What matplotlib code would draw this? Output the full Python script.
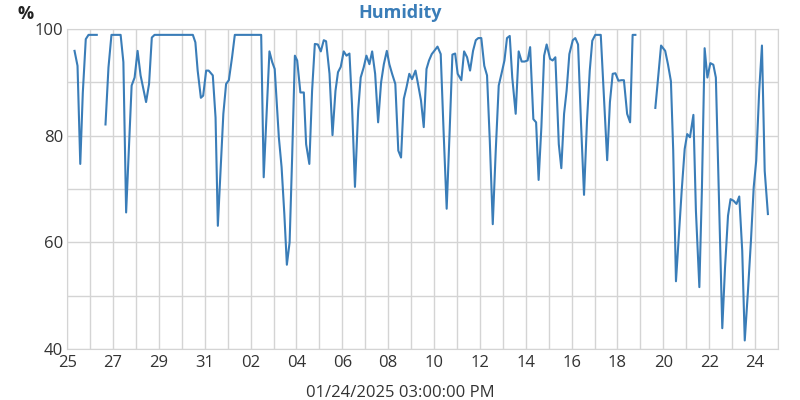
import matplotlib
matplotlib.use("Agg")
import matplotlib.pyplot as plt
import matplotlib.dates as mdates
import numpy as np
from datetime import datetime, timedelta

plt.rcParams['font.family'] = ['Open Sans', 'DejaVu Sans']

# lecturas: dias desde 25/12/2024 00:00 y humedad (%)
# None = hueco sin datos
dias = [0.32, 0.45, 0.57, 0.68, 0.81, 0.93, 1.29, None,
        1.67, 1.80, 1.93, 2.33, 2.45, 2.57, 2.81, 2.94, 3.07, 3.20, 3.44, 3.57,
        3.69, 3.81, 5.48, 5.59, 5.69, 5.83, 5.93, 6.06, 6.17, 6.35, 6.47, 6.57,
        6.81, 6.93, 7.05, 7.19, 7.31, 8.46, 8.57, 8.82, 8.94, 9.05, 9.23, 9.35,
        9.47, 9.58, 9.70, 9.81, 9.93, 10.03, 10.17, 10.32, 10.42, 10.56, 10.68,
        10.80, 10.93, 11.06, 11.19, 11.29, 11.44, 11.57, 11.70, 11.81, 11.93,
        12.06, 12.18, 12.31, 12.42, 12.55, 12.69, 12.80, 12.93, 13.05, 13.18,
        13.30, 13.43, 13.56, 13.69, 13.81, 13.94, 14.05, 14.17, 14.31, 14.44,
        14.56, 14.68, 14.80, 14.92, 15.04, 15.19, 15.30, 15.43, 15.55, 15.67,
        15.78, 15.90, 16.01, 16.15, 16.29, 16.42, 16.55, 16.68, 16.80, 16.92,
        17.03, 17.19, 17.31, 17.44, 17.57, 17.70, 17.82, 17.93, 18.06, 18.19,
        18.31, 18.43, 18.56, 18.69, 18.82, 18.94, 19.07, 19.18, 19.30, 19.41,
        19.56, 19.69, 19.82, 19.95, 20.08, 20.19, 20.33, 20.45, 20.56, 20.68,
        20.80, 20.91, 21.06, 21.17, 21.29, 21.44, 21.55, 21.67, 21.78, 21.90,
        22.05, 22.16, 22.28, 22.41, 22.54, 22.67, 22.79, 22.90, 23.03, 23.27,
        23.41, 23.55, 23.67, 23.79, 23.91, 24.04, 24.17, 24.28, 24.42, 24.55,
        24.66, 24.78, None,
        25.65, 25.90, 26.08, 26.20, 26.33, 26.43, 26.55, 26.67, 26.80, 26.93,
        27.04, 27.16, 27.31, 27.42, 27.57, 27.68, 27.80, 27.92, 28.05, 28.18,
        28.29, 28.44, 28.57, 28.69, 28.82, 28.93, 29.06, 29.19, 29.31, 29.44,
        29.55, 29.69, 29.82, 29.94, 30.05, 30.18, 30.30, 30.42, 30.56]

humedad = [95.9, 93.1, 74.7, 88.0, 98.1, 98.9, 98.9, None,
           82.1, 92.8, 98.9, 98.9, 93.8, 65.6, 89.4, 90.9, 95.9, 91.3, 86.3, 89.7,
           98.4, 98.9, 98.9, 97.5, 92.2, 87.1, 87.5, 92.2, 92.2, 91.3, 83.4, 63.1,
           84.1, 89.7, 90.4, 94.7, 98.9, 98.9, 72.2, 95.8, 93.8, 92.5, 79.7, 74.1,
           65.3, 55.8, 60.0, 75.9, 95.0, 94.1, 88.1, 88.1, 78.4, 74.7, 88.4,
           97.2, 97.1, 95.8, 97.9, 97.7, 91.6, 80.1, 88.4, 91.9, 92.9,
           95.8, 95.0, 95.4, 85.9, 70.4, 84.7, 90.9, 92.8, 95.0, 93.4,
           95.8, 91.6, 82.5, 90.0, 93.4, 95.9, 93.4, 91.6, 89.7, 77.2,
           75.9, 86.9, 89.1, 91.6, 90.6, 92.2, 89.7, 86.6, 81.6, 92.5,
           94.1, 95.3, 95.9, 96.7, 95.3, 80.3, 66.3, 80.9, 95.2, 95.4,
           91.6, 90.4, 95.8, 94.7, 92.2, 95.9, 97.9, 98.3, 98.3, 93.1,
           91.3, 79.1, 63.4, 77.2, 89.4, 91.6, 94.1, 98.3, 98.7, 90.9,
           84.1, 95.8, 93.9, 93.9, 94.1, 96.6, 83.1, 82.5, 71.7, 81.6,
           95.0, 97.1, 94.4, 94.1, 94.7, 78.4, 73.9, 84.1, 88.4, 95.3,
           97.9, 98.3, 97.1, 82.2, 68.9, 82.8, 92.2, 97.8, 98.9, 98.9,
           87.2, 75.4, 86.3, 91.6, 91.7, 90.3, 90.4, 90.4, 84.1, 82.5,
           98.9, 98.9, None,
           85.2, 96.9, 95.9, 93.4, 90.2, 77.2, 52.7, 60.9, 69.7, 77.5,
           80.3, 79.7, 83.9, 65.9, 51.6, 69.7, 96.4, 90.9, 93.6, 93.3,
           90.9, 65.9, 43.9, 55.3, 65.0, 68.1, 67.8, 67.2, 68.6, 58.4,
           41.6, 50.9, 60.3, 70.3, 75.3, 88.4, 96.9, 73.4, 65.3]

inicio = datetime(2024, 12, 25)
fechas = [inicio + timedelta(days=d) if d is not None else inicio + timedelta(days=1.5) for d in dias]
valores = np.array([np.nan if v is None else v for v in humedad])

azul = '#3a7db8'
gris = '#d4d4d4'

fig = plt.figure(figsize=(8, 4), dpi=100)
ax = fig.add_axes([0.084, 0.1275, 0.8885, 0.8])

ax.plot(fechas, valores, color=azul, linewidth=1.5)

ax.set_xlim(inicio, inicio + timedelta(days=31))
ax.set_ylim(40, 100)

ticks_x = [inicio + timedelta(days=2 * k) for k in range(16)]
ax.set_xticks(ticks_x)
ax.set_xticks([inicio + timedelta(days=k) for k in range(32)], minor=True)
ax.xaxis.set_major_formatter(mdates.DateFormatter('%d'))
ax.set_yticks([40, 60, 80, 100])
ax.set_yticks([50, 70, 90], minor=True)

ax.grid(True, which='both', color=gris, linewidth=1)
ax.set_axisbelow(True)
ax.tick_params(which='both', length=0, labelsize=12, colors='#333333')
ax.tick_params(axis='x', pad=4)
ax.tick_params(axis='y', pad=3)
for s in ax.spines.values():
    s.set_color(gris)

fig.text(0.5, 0.967, 'Humidity', ha='center', va='center', fontsize=13,
         fontweight='bold', color=azul)
fig.text(0.022, 0.965, '%', ha='left', va='center', fontsize=13,
         fontweight='bold', color='#222222')
fig.text(0.5, 0.017, '01/24/2025 03:00:00 PM', ha='center', va='center',
         fontsize=12, color='#333333')

fig.savefig('out.png', dpi=100)
